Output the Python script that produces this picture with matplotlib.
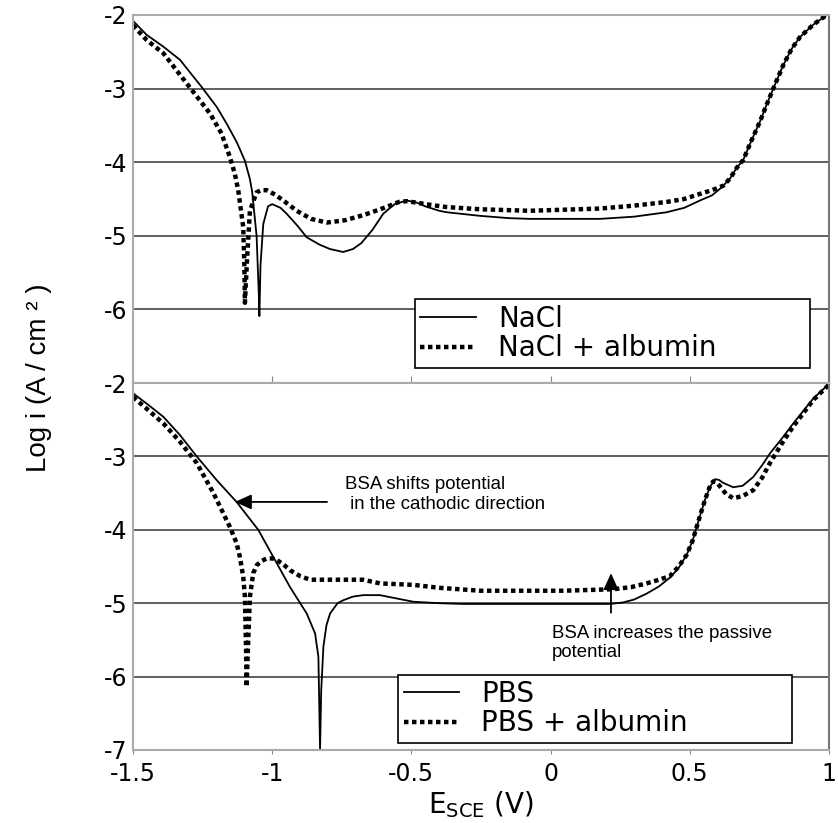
import numpy as np
import matplotlib.pyplot as plt

plt.rcParams['axes.unicode_minus'] = False

# Top panel: NaCl (solid)
nacl_E = [-1.50, -1.451, -1.391, -1.331, -1.253, -1.199, -1.163, -1.127, -1.098, -1.080,
          -1.072, -1.056, -1.048, -1.046, -1.042, -1.032, -1.015, -1.000, -0.970, -0.948,
          -0.910, -0.876, -0.830, -0.792, -0.745, -0.710, -0.680, -0.640, -0.601, -0.560,
          -0.517, -0.480, -0.450, -0.400, -0.373, -0.300, -0.250, -0.150, -0.074, 0.177,
          0.300, 0.417, 0.480, 0.537, 0.580, 0.609, 0.620, 0.645, 0.668, 0.692,
          0.720, 0.752, 0.776, 0.800, 0.836, 0.866, 0.896, 0.944, 0.992]
nacl_logi = [-2.08, -2.27, -2.43, -2.61, -2.98, -3.25, -3.48, -3.73, -3.98, -4.23,
             -4.40, -5.00, -5.80, -6.09, -5.40, -4.84, -4.60, -4.57, -4.62, -4.70,
             -4.86, -5.02, -5.12, -5.18, -5.22, -5.18, -5.10, -4.92, -4.70, -4.57,
             -4.52, -4.55, -4.60, -4.66, -4.68, -4.71, -4.73, -4.76, -4.77, -4.77,
             -4.74, -4.68, -4.62, -4.52, -4.45, -4.36, -4.32, -4.22, -4.08, -3.97,
             -3.72, -3.45, -3.22, -3.00, -2.68, -2.46, -2.30, -2.13, -2.00]

# Top panel: NaCl + albumin (dotted)
nacl_alb_E = [-1.50, -1.451, -1.391, -1.307, -1.223, -1.182, -1.152, -1.134, -1.122, -1.104,
              -1.100, -1.098, -1.090, -1.080, -1.056, -1.040, -1.020, -0.990, -0.960, -0.912,
              -0.860, -0.804, -0.740, -0.673, -0.620, -0.577, -0.545, -0.517, -0.480, -0.450,
              -0.373, -0.250, -0.074, 0.177, 0.300, 0.417, 0.480, 0.537, 0.580, 0.620,
              0.645, 0.668, 0.692, 0.720, 0.752, 0.776, 0.800, 0.836, 0.866, 0.896,
              0.944, 0.992]
nacl_alb_logi = [-2.14, -2.34, -2.52, -2.93, -3.34, -3.61, -3.93, -4.16, -4.38, -4.88,
                 -5.40, -5.91, -5.30, -4.66, -4.41, -4.38, -4.38, -4.44, -4.52, -4.66,
                 -4.77, -4.82, -4.79, -4.72, -4.65, -4.59, -4.54, -4.53, -4.55, -4.57,
                 -4.61, -4.64, -4.66, -4.63, -4.59, -4.54, -4.50, -4.43, -4.38, -4.32,
                 -4.22, -4.08, -3.97, -3.72, -3.45, -3.22, -3.00, -2.68, -2.46, -2.30,
                 -2.13, -2.00]

# Bottom panel: PBS (solid)
pbs_E = [-1.50, -1.451, -1.391, -1.331, -1.271, -1.200, -1.128, -1.050, -0.996, -0.936,
         -0.876, -0.846, -0.834, -0.828, -0.824, -0.816, -0.805, -0.792, -0.765, -0.745,
         -0.710, -0.673, -0.613, -0.560, -0.493, -0.400, -0.314, 0.0, 0.213, 0.260,
         0.300, 0.345, 0.390, 0.429, 0.460, 0.489, 0.510, 0.525, 0.540, 0.555,
         0.572, 0.591, 0.605, 0.620, 0.656, 0.690, 0.728, 0.760, 0.788, 0.830,
         0.872, 0.910, 0.944, 0.998]
pbs_logi = [-2.14, -2.28, -2.46, -2.71, -3.00, -3.32, -3.62, -4.00, -4.37, -4.78,
            -5.14, -5.41, -5.73, -7.00, -6.20, -5.59, -5.30, -5.14, -5.00, -4.96,
            -4.91, -4.89, -4.89, -4.93, -4.98, -5.00, -5.01, -5.01, -5.01, -4.99,
            -4.95, -4.87, -4.77, -4.65, -4.52, -4.34, -4.15, -3.96, -3.77, -3.59,
            -3.42, -3.31, -3.32, -3.36, -3.42, -3.40, -3.28, -3.12, -2.96, -2.76,
            -2.55, -2.37, -2.21, -2.02]

# Bottom panel: PBS + albumin (dotted)
pbs_alb_E = [-1.50, -1.451, -1.391, -1.331, -1.271, -1.211, -1.152, -1.128, -1.116, -1.104,
             -1.098, -1.094, -1.092, -1.086, -1.080, -1.068, -1.055, -1.040, -1.020, -1.000,
             -0.984, -0.960, -0.936, -0.900, -0.864, -0.792, -0.673, -0.613, -0.493, -0.400,
             -0.253, 0.046, 0.225, 0.290, 0.345, 0.390, 0.429, 0.460, 0.489, 0.510,
             0.525, 0.540, 0.555, 0.570, 0.584, 0.595, 0.609, 0.630, 0.656, 0.690,
             0.728, 0.760, 0.788, 0.830, 0.872, 0.910, 0.944, 0.998]
pbs_alb_logi = [-2.19, -2.35, -2.55, -2.80, -3.09, -3.50, -3.96, -4.18, -4.37, -4.64,
                -4.91, -5.60, -6.14, -5.50, -4.91, -4.59, -4.48, -4.43, -4.39, -4.39,
                -4.41, -4.47, -4.55, -4.63, -4.68, -4.68, -4.68, -4.73, -4.75, -4.79,
                -4.83, -4.83, -4.81, -4.78, -4.73, -4.68, -4.63, -4.50, -4.34, -4.15,
                -3.96, -3.77, -3.59, -3.43, -3.34, -3.35, -3.41, -3.51, -3.57, -3.54,
                -3.46, -3.29, -3.09, -2.83, -2.59, -2.40, -2.23, -2.03]

x_ticks = [-1.5, -1, -0.5, 0, 0.5, 1]
x_labels = ['-1.5', '-1', '-0.5', '0', '0.5', '1']
y_ticks = [-7, -6, -5, -4, -3, -2]

fig = plt.figure(figsize=(8.38, 8.23), dpi=100)
ax1 = fig.add_axes([0.1587, 0.5346, 0.8305, 0.4472])
ax2 = fig.add_axes([0.1587, 0.0887, 0.8305, 0.4459])

dots = (0, (1.0, 0.8))

ax1.plot(nacl_E, nacl_logi, color='black', lw=1.3, label='NaCl')
ax1.plot(nacl_alb_E, nacl_alb_logi, color='black', lw=3.2, linestyle=dots, label='NaCl + albumin')
ax2.plot(pbs_E, pbs_logi, color='black', lw=1.3, label='PBS')
ax2.plot(pbs_alb_E, pbs_alb_logi, color='black', lw=3.2, linestyle=dots, label='PBS + albumin')

for ax in (ax1, ax2):
    ax.set_xlim(-1.5, 1)
    ax.set_ylim(-7, -2)
    ax.set_yticks(y_ticks)
    ax.set_xticks(x_ticks)
    ax.grid(axis='y', color='#444444', lw=1.2)
    ax.tick_params(axis='y', length=0, pad=4, labelsize=17)
    for s in ax.spines.values():
        s.set_color('#aaaaaa')
        s.set_linewidth(1.5)
    ax.spines['right'].set_color('#777777')

ax1.set_yticklabels(['', '-6', '-5', '-4', '-3', '-2'])
ax2.set_yticklabels(['-7', '-6', '-5', '-4', '-3', '-2'])
ax1.tick_params(axis='x', direction='in', length=5, color='#888888', labelbottom=False)
ax2.tick_params(axis='x', direction='out', length=3, color='#888888', pad=6, labelsize=17)
ax2.set_xticklabels(x_labels)

leg_kw = dict(loc='lower left', mode='expand', fontsize=20, handlelength=2.0,
              handletextpad=0.8, labelspacing=0.05, borderpad=0.2, fancybox=False,
              edgecolor='black', framealpha=1, borderaxespad=0)
leg1 = ax1.legend(bbox_to_anchor=(0.405, 0.041, 0.568, 0.2), **leg_kw)
leg2 = ax2.legend(bbox_to_anchor=(0.381, 0.019, 0.566, 0.2), **leg_kw)
for leg in (leg1, leg2):
    leg.get_frame().set_linewidth(1.2)

ax2.annotate('', xy=(-1.134, -3.62), xytext=(-0.803, -3.62),
             arrowprops=dict(arrowstyle='-|>,head_length=1.0,head_width=0.45',
                             color='black', lw=1.3, shrinkA=0, shrinkB=0))
ax2.text(-0.738, -3.52, 'BSA shifts potential\n in the cathodic direction',
         fontsize=13.4, family='Liberation Sans', va='center', ha='left')
ax2.annotate('', xy=(0.217, -4.59), xytext=(0.217, -5.13),
             arrowprops=dict(arrowstyle='-|>,head_length=1.0,head_width=0.45',
                             color='black', lw=1.3, shrinkA=0, shrinkB=0))
ax2.text(0.005, -5.54, 'BSA increases the passive\npotential',
         fontsize=13.4, family='Liberation Sans', va='center', ha='left')

ax2.set_xlabel('E$_{\\mathregular{SCE}}$ (V)', fontsize=20, labelpad=2)
fig.text(39 / 838, 1 - 378 / 823, 'Log i (A / cm ² )', rotation=90, fontsize=20,
         family='Liberation Sans', va='center', ha='center')

fig.savefig('out.png', dpi=100)
